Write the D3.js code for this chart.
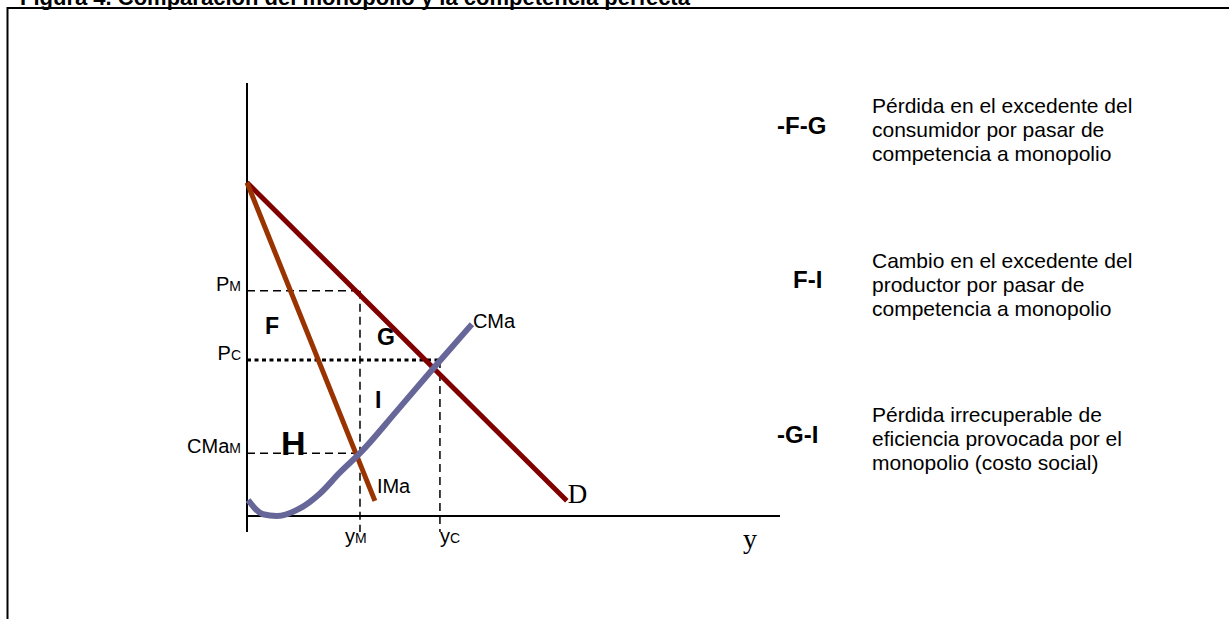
<!DOCTYPE html>
<html>
<head>
<meta charset="utf-8">
<script src="https://cdn.jsdelivr.net/npm/d3@7"></script>
<style>
  body { margin: 0; background: #fff; }
  svg { display: block; }
  text { font-family: "Liberation Sans", Arial, sans-serif; fill: #000; }
</style>
</head>
<body>
<svg id="chart" width="1229" height="619"></svg>
<script>
// Curves in quantity (x) / price (y) units
const demandLine = [[0, 77], [60, 3.5]];
const marginalRevenueLine = [[0, 77], [24, 3.5]];
const marginalCostCurve = [
  [0.2, 3.7], [3, 0.4], [5.6, 0], [10, 1.8], [13.7, 5.2], [17.4, 10],
  [21.2, 14.5], [28, 24.1], [35.3, 34.6], [42.2, 44.3]
];

// Reference levels on each axis
const priceTickValues = [52, 36, 14.5];
const priceTickLabels = [["P", "M"], ["P", "C"], ["CMa", "M"]];
const quantityTickValues = [21.2, 36.2];
const quantityTickLabels = [["y", "M"], ["y", "C"]];

// Summary of welfare changes
const summaryKeys = ["-F-G", "F-I", "-G-I"];
const summaryTexts = [
  ["Pérdida en el excedente del", "consumidor por pasar de", "competencia a monopolio"],
  ["Cambio en el excedente del", "productor por pasar de", "competencia a monopolio"],
  ["Pérdida irrecuperable de", "eficiencia provocada por el", "monopolio (costo social)"]
];

const titleText = "Figura 4. Comparación del monopolio y la competencia perfecta";

const svg = d3.select("#chart");
const x = d3.scaleLinear().domain([0, 100]).range([247, 780]);
const y = d3.scaleLinear().domain([0, 100]).range([516, 83]);
const axisBottomExtent = -3.7;

// Title (partly above the page edge) and frame
svg.append("text")
  .attr("x", 20).attr("y", 4.5)
  .style("font-weight", "bold").style("font-size", "22px")
  .text(titleText);

svg.append("path")
  .attr("d", "M7.5,619V8H1229")
  .attr("fill", "none").attr("stroke", "#000").attr("stroke-width", 2);

// Axes
const axes = svg.append("g").attr("stroke", "#000").attr("stroke-width", 2);
axes.append("line")
  .attr("x1", x(0)).attr("x2", x(0))
  .attr("y1", y(axisBottomExtent)).attr("y2", y(100));
axes.append("line")
  .attr("x1", x(0)).attr("x2", x(100))
  .attr("y1", y(0)).attr("y2", y(0));

// Guide lines: monopoly price, marginal cost at y_M, quantities
const guides = svg.append("g").attr("fill", "none").attr("stroke", "#000");
guides.append("line")
  .attr("x1", x(0)).attr("x2", x(quantityTickValues[0]))
  .attr("y1", y(priceTickValues[0])).attr("y2", y(priceTickValues[0]))
  .attr("stroke-width", 1.5).attr("stroke-dasharray", "8,5");
guides.append("line")
  .attr("x1", x(0)).attr("x2", x(quantityTickValues[0]))
  .attr("y1", y(priceTickValues[2])).attr("y2", y(priceTickValues[2]))
  .attr("stroke-width", 1.5).attr("stroke-dasharray", "8,5");
guides.append("line")
  .attr("x1", x(quantityTickValues[0])).attr("x2", x(quantityTickValues[0]))
  .attr("y1", y(priceTickValues[0])).attr("y2", y(axisBottomExtent))
  .attr("stroke-width", 1.5).attr("stroke-dasharray", "8,5");
guides.append("line")
  .attr("x1", x(quantityTickValues[1])).attr("x2", x(quantityTickValues[1]))
  .attr("y1", y(priceTickValues[1])).attr("y2", y(axisBottomExtent))
  .attr("stroke-width", 1.5).attr("stroke-dasharray", "8,5");
guides.append("line")
  .attr("x1", x(0)).attr("x2", x(quantityTickValues[1]))
  .attr("y1", y(priceTickValues[1])).attr("y2", y(priceTickValues[1]))
  .attr("stroke-width", 3).attr("stroke-dasharray", "4,3.5");

// Demand, marginal revenue and marginal cost
const line = d3.line().x(d => x(d[0])).y(d => y(d[1]));
const smooth = d3.line().x(d => x(d[0])).y(d => y(d[1])).curve(d3.curveMonotoneX);

svg.append("path").datum(demandLine).attr("d", line)
  .attr("fill", "none").attr("stroke", "#800000").attr("stroke-width", 5);
svg.append("path").datum(marginalRevenueLine).attr("d", line)
  .attr("fill", "none").attr("stroke", "#993300").attr("stroke-width", 5);
svg.append("path").datum(marginalCostCurve).attr("d", smooth)
  .attr("fill", "none").attr("stroke", "#666699").attr("stroke-width", 6);

// Axis level labels with subscripts
function subLabel(g, parts, size) {
  g.append("tspan").style("font-size", size + "px").text(parts[0]);
  g.append("tspan").style("font-size", Math.round(size * 0.68) + "px").text(parts[1]);
}
priceTickValues.forEach((v, i) => {
  const t = svg.append("text")
    .attr("x", 241).attr("y", y(v))
    .attr("text-anchor", "end");
  subLabel(t, priceTickLabels[i], 20);
});
quantityTickValues.forEach((v, i) => {
  const t = svg.append("text")
    .attr("x", x(v) - (i === 0 ? 15 : 0)).attr("y", 543);
  subLabel(t, quantityTickLabels[i], 20);
});

// Curve names
svg.append("text").attr("x", x(24) + 2).attr("y", 493)
  .style("font-size", "20px").text("IMa");
svg.append("text").attr("x", x(42.2) + 1).attr("y", 328)
  .style("font-size", "20px").text("CMa");
svg.append("text").attr("x", x(60) + 1).attr("y", 503)
  .style("font-family", "'Liberation Serif', 'Times New Roman', serif")
  .style("font-size", "27px").text("D");
svg.append("text").attr("x", 743).attr("y", 548)
  .style("font-family", "'Liberation Serif', 'Times New Roman', serif")
  .style("font-size", "28px").text("y");

// Area labels
const bold = (tx, ty, s, size) => svg.append("text")
  .attr("x", tx).attr("y", ty)
  .style("font-weight", "bold").style("font-size", size + "px").text(s);
bold(265, 334, "F", 23);
bold(377, 345, "G", 23);
bold(375, 408, "I", 23);
bold(281, 455, "H", 34);

// Summary column
const keyX = [777, 793, 777];
const keyY = [134, 288, 443];
const textY = [113, 268, 422];
summaryKeys.forEach((k, i) => {
  bold(keyX[i], keyY[i], k, 24);
  const t = svg.append("text").attr("x", 872).attr("y", textY[i])
    .style("font-size", "21px");
  summaryTexts[i].forEach((s, j) => {
    t.append("tspan").attr("x", 872).attr("dy", j === 0 ? 0 : 24).text(s);
  });
});
</script>
</body>
</html>
